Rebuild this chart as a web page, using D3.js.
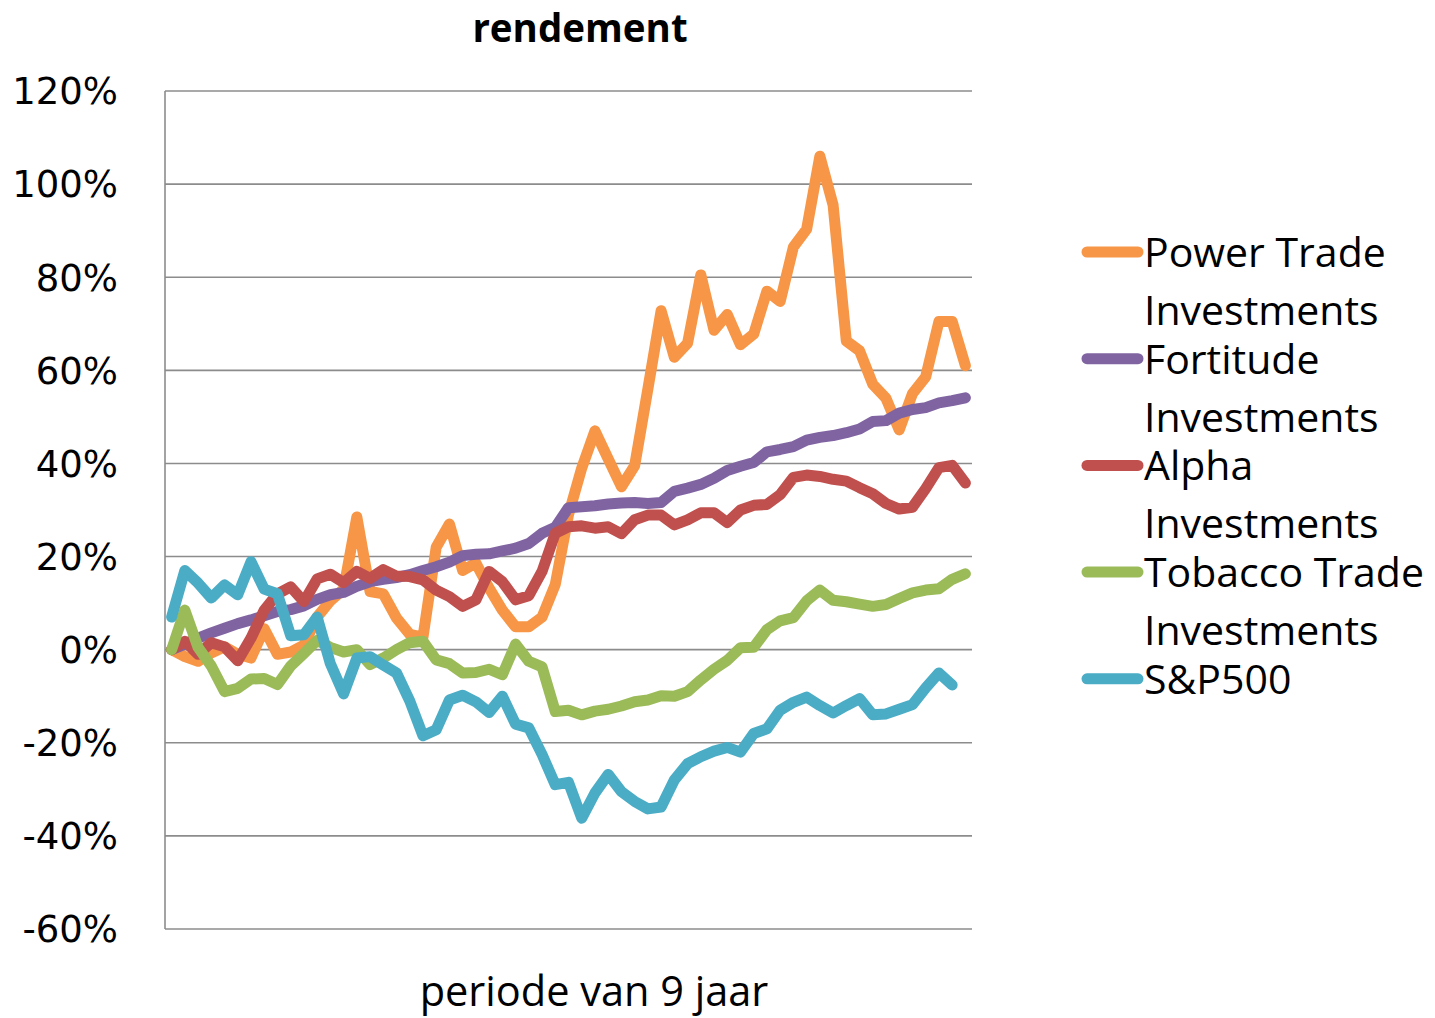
<!DOCTYPE html>
<html>
<head>
    <meta charset="utf-8">
    <script src="https://cdnjs.cloudflare.com/ajax/libs/d3/7.8.5/d3.min.js"></script>
    <style>
        body{
            margin: 0;
            background: #fff;
        }
        .tick-label{
            font-family: "DejaVu Sans", sans-serif;
            font-size: 37px;
            fill: #000;
        }
        .legend-label{
            font-family: "Open Sans", sans-serif;
            font-size: 41px;
            fill: #000;
        }
    </style>
    <title>rendement</title>
</head>
<body>
    <div class="chart-wrap"></div>

    <script>
    // periods (61 steps over 9 years)
    var periods = [1,2,3,4,5,6,7,8,9,10,11,12,13,14,15,16,17,18,19,20,
        21,22,23,24,25,26,27,28,29,30,31,32,33,34,35,36,37,38,39,40,
        41,42,43,44,45,46,47,48,49,50,51,52,53,54,55,56,57,58,59,60,61];

    var powerTrade = [0,-1.5,-2.5,-0.7,0.6,-1,-1.8,4.5,-1,-0.5,
        1,7,10.5,13,28.5,12.5,12,6.8,3.3,2.7,
        22,27,17,18.6,13.2,8.5,4.9,4.9,7,14,
        29,39,47,41,35,39.5,56,72.8,62.8,65.8,
        80.5,68.6,72,65.5,67.8,77,74.8,86.5,90.3,106,
        95.5,66.3,64.2,57,54,47.2,55,58.6,70.5,70.5,61];

    var fortitude = [0,1.2,2.5,3.6,4.6,5.6,6.4,7.3,8.2,8.6,
        9.4,10.8,11.8,12.3,13.6,14.6,15.1,15.5,16.1,17,
        17.8,18.8,20.2,20.5,20.6,21.2,21.8,22.8,25,26.3,
        30.5,30.7,30.9,31.3,31.5,31.6,31.4,31.6,34,34.7,
        35.5,36.8,38.5,39.4,40.2,42.5,43,43.6,45,45.6,
        46,46.6,47.4,49,49.2,50.8,51.6,52,53,53.5,54.1];

    var alpha = [0,1.8,-1,1.5,0.6,-2.4,2.5,8.5,12,13.5,
        10.3,15.2,16.2,14.4,16.8,15.3,17.2,15.8,15.7,15,
        12.8,11.4,9.3,10.7,16.8,14.6,10.7,11.6,16.8,25,
        26.4,26.6,26.1,26.4,24.9,27.9,28.9,28.9,26.8,27.9,
        29.4,29.4,27.3,30,31,31.2,33.3,37,37.5,37.2,
        36.6,36.2,34.8,33.5,31.4,30.2,30.6,34.6,39.1,39.6,35.8];

    var tobacco = [0,8.5,0.5,-3.5,-9,-8.3,-6.3,-6.2,-7.5,-3.5,
        -0.8,2,0.5,-0.5,0,-3.2,-1.8,0,1.5,1.8,
        -2.2,-3,-5,-4.9,-4.2,-5.4,1.2,-2.5,-3.7,-13.3,
        -13,-14,-13.2,-12.8,-12.1,-11.2,-10.8,-9.9,-10,-9,
        -6.5,-4.2,-2.3,0.4,0.5,4.3,6.2,6.9,10.5,12.8,
        10.6,10.3,9.8,9.3,9.7,11,12.2,12.8,13.1,15.1,16.3];

    // S&P500 has one period less
    var sp500 = [7,17,14.3,11.1,13.9,11.8,18.9,13,12,3,
        3.2,7,-3,-9.5,-1.8,-1.5,-3.3,-5,-11,-18.5,
        -17.2,-10.8,-9.8,-11.2,-13.5,-10,-16,-16.8,-22.5,-29,
        -28.5,-36.2,-30.8,-26.8,-30.5,-32.6,-34.2,-33.8,-28,-24.5,
        -23,-21.8,-21,-22,-18,-17,-13,-11.3,-10.2,-12,
        -13.6,-12,-10.5,-14,-13.8,-12.8,-11.8,-8.2,-5,-7.6];

    var yTicks = [-60,-40,-20,0,20,40,60,80,100,120];

    var seriesNames = ["Power Trade Investments","Fortitude Investments","Alpha Investments","Tobacco Trade Investments","S&P500"];
    var legendLines = [["Power Trade","Investments"],["Fortitude","Investments"],["Alpha","Investments"],["Tobacco Trade","Investments"],["S&P500"]];
    var colors = ["#f79646","#8064a2","#c0504d","#9bbb59","#4bacc6"];

    var series = [powerTrade, fortitude, alpha, tobacco, sp500].map(function (vals, k) {
        return {
            name: seriesNames[k],
            color: colors[k],
            values: vals.map(function (v, i) { return {p: periods[i], v: v}; })
        };
    });

    var w = 1435,
        h = 1018;

    var svg = d3.select(".chart-wrap").append("svg")
        .attr("width", w)
        .attr("height", h);

    var x = d3.scalePoint()
        .domain(periods)
        .range([165, 972])
        .padding(0.5);

    var y = d3.scaleLinear()
        .domain([-60, 120])
        .range([929, 91]);

    // gridlines
    svg.append("g")
        .selectAll("line")
        .data(yTicks)
        .enter().append("line")
        .attr("x1", 165)
        .attr("x2", 972)
        .attr("y1", function (d) { return y(d); })
        .attr("y2", function (d) { return y(d); })
        .style("stroke", "#8c8c8c")
        .style("stroke-width", 1.6);

    // left axis line
    svg.append("line")
        .attr("x1", 165)
        .attr("x2", 165)
        .attr("y1", y(120))
        .attr("y2", y(-60))
        .style("stroke", "#8c8c8c")
        .style("stroke-width", 1.6);

    // y tick labels
    svg.append("g")
        .selectAll("text")
        .data(yTicks)
        .enter().append("text")
        .attr("class", "tick-label")
        .attr("x", 118)
        .attr("y", function (d) { return y(d); })
        .attr("dy", "0.36em")
        .attr("text-anchor", "end")
        .text(function (d) { return d + "%"; });

    var line = d3.line()
        .x(function (d) { return x(d.p); })
        .y(function (d) { return y(d.v); });

    svg.append("g")
        .selectAll("path")
        .data(series)
        .enter().append("path")
        .attr("d", function (d) { return line(d.values); })
        .style("fill", "none")
        .style("stroke", function (d) { return d.color; })
        .style("stroke-width", 11)
        .style("stroke-linejoin", "round")
        .style("stroke-linecap", "round");

    // title
    svg.append("text")
        .attr("x", 580)
        .attr("y", 42)
        .attr("text-anchor", "middle")
        .style("font-family", "'Open Sans', sans-serif")
        .style("font-weight", "bold")
        .style("font-size", "38.5px")
        .text("rendement");

    // x axis title
    svg.append("text")
        .attr("x", 594)
        .attr("y", 1006)
        .attr("text-anchor", "middle")
        .style("font-family", "'Open Sans', sans-serif")
        .style("font-size", "41.5px")
        .text("periode van 9 jaar");

    // legend
    var legend = svg.append("g")
        .selectAll("g")
        .data(series)
        .enter().append("g")
        .attr("transform", function (d, i) { return "translate(0," + (252 + i * 106.7) + ")"; });

    legend.append("line")
        .attr("x1", 1087)
        .attr("x2", 1138)
        .style("stroke", function (d) { return d.color; })
        .style("stroke-width", 11)
        .style("stroke-linecap", "round");

    legend.each(function (d, i) {
        d3.select(this).selectAll("text")
            .data(legendLines[i])
            .enter().append("text")
            .attr("class", "legend-label")
            .attr("x", 1144)
            .attr("y", function (t, j) { return 15 + j * 58; })
            .text(function (t) { return t; });
    });
    </script>
</body>
</html>
